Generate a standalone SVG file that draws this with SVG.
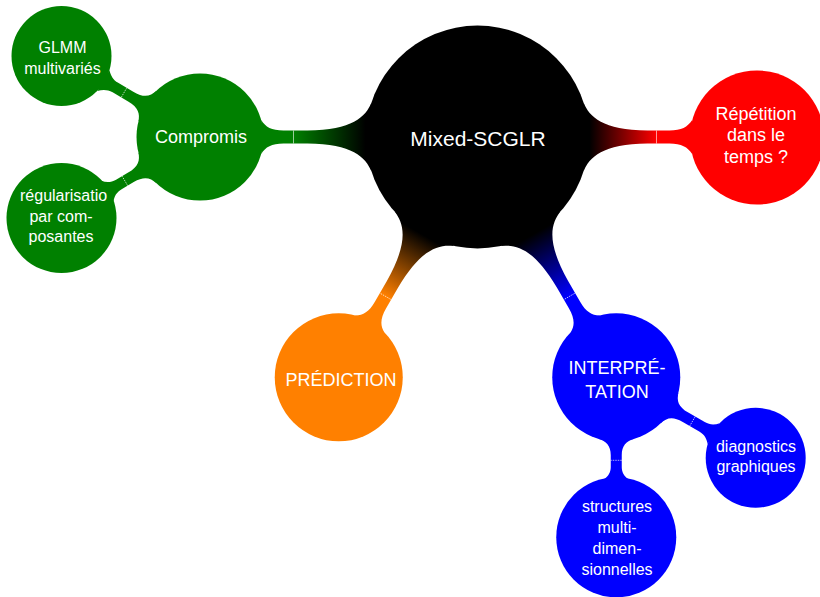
<svg xmlns="http://www.w3.org/2000/svg" width="820" height="597" viewBox="0 0 820 597">
<style>
.t{font-family:"Liberation Sans",Arial,sans-serif;fill:#ffffff;text-anchor:middle}
.l0{font-size:21px}
.l1{font-size:18px}
.l2{font-size:16px}
.tick{stroke:#ffffff;stroke-width:0.8;stroke-opacity:0.75;fill:none}
.tick2{stroke:#ffffff;stroke-width:0.8;stroke-opacity:0.8;stroke-dasharray:1.5 1;fill:none}
</style>
<defs>
<linearGradient id="gGreen" gradientUnits="userSpaceOnUse" x1="112" y1="0" x2="184" y2="0"><stop offset="0" stop-color="#000000"/><stop offset="1" stop-color="#008000"/></linearGradient>
<linearGradient id="gRed" gradientUnits="userSpaceOnUse" x1="112" y1="0" x2="179" y2="0"><stop offset="0" stop-color="#000000"/><stop offset="1" stop-color="#ff0000"/></linearGradient>
<linearGradient id="gOrange" gradientUnits="userSpaceOnUse" x1="112" y1="0" x2="184" y2="0"><stop offset="0" stop-color="#000000"/><stop offset="1" stop-color="#ff8000"/></linearGradient>
<linearGradient id="gBlue" gradientUnits="userSpaceOnUse" x1="112" y1="0" x2="184" y2="0"><stop offset="0" stop-color="#000000"/><stop offset="1" stop-color="#0000ff"/></linearGradient>
</defs>
<rect width="820" height="597" fill="#ffffff"/>
<g id="connectors">
  <g transform="translate(477.5,137) rotate(180)">
    <path fill="url(#gGreen)" d="M106,-34.5 C112,-20 125,-7 170,-6.5 L194,-6.5 C206,-6.5 212,-10 216.3,-17 L216.3,17 C212,10 206,6.5 194,6.5 L170,6.5 C125,7 112,20 106,34.5 Z"/>
    <line class="tick" x1="184" y1="-6.5" x2="184" y2="6.5"/>
  </g>
  <g transform="translate(477.5,137) rotate(0)">
    <path fill="url(#gRed)" d="M106,-34.5 C112,-20 125,-7 170,-6.5 L192,-6.5 C204,-6.5 210,-10 214.7,-17 L214.7,17 C210,10 204,6.5 192,6.5 L170,6.5 C125,7 112,20 106,34.5 Z"/>
    <line class="tick" x1="179" y1="-6.5" x2="179" y2="6.5"/>
  </g>
  <g transform="translate(477.5,137) rotate(120)">
    <path fill="url(#gOrange)" d="M106,-34.5 C112,-20 125,-7 170,-6.5 L194,-6.5 C206,-6.5 212,-10 215.8,-17 L215.8,17 C212,10 206,6.5 194,6.5 L170,6.5 C125,7 112,20 106,34.5 Z"/>
    <line class="tick2" x1="184" y1="-6" x2="184" y2="6"/>
  </g>
  <g transform="translate(477.5,137) rotate(60)">
    <path fill="url(#gBlue)" d="M106,-34.5 C112,-20 125,-7 170,-6.5 L194,-6.5 C206,-6.5 212,-10 215.8,-17 L215.8,17 C212,10 206,6.5 194,6.5 L170,6.5 C125,7 112,20 106,34.5 Z"/>
    <line class="tick2" x1="184" y1="-6" x2="184" y2="6"/>
  </g>
  <g transform="translate(200,137) rotate(210.3)">
    <path fill="#008000" d="M60.9,-18 C63.5,-10 68,-5.5 80,-5.5 L98,-5.5 C104,-5.5 108,-8 111.9,-12 L111.9,12 C108,8 104,5.5 98,5.5 L80,5.5 C68,5.5 63.5,10 60.9,18 Z"/>
    <line class="tick2" x1="88" y1="-5.5" x2="88" y2="5.5"/>
  </g>
  <g transform="translate(200,137) rotate(149.7)">
    <path fill="#008000" d="M60.9,-18 C63.5,-10 68,-5.5 80,-5.5 L94,-5.5 C100,-5.5 104,-8 107.2,-12 L107.2,12 C104,8 100,5.5 94,5.5 L80,5.5 C68,5.5 63.5,10 60.9,18 Z"/>
    <line class="tick2" x1="87" y1="-5.5" x2="87" y2="5.5"/>
  </g>
  <g transform="translate(616.25,377.3) rotate(30)">
    <path fill="#0000ff" d="M61.4,-18 C64,-10 68,-5.5 80,-5.5 L99,-5.5 C105,-5.5 109,-8 112.5,-12 L112.5,12 C109,8 105,5.5 99,5.5 L80,5.5 C68,5.5 64,10 61.4,18 Z"/>
    <line class="tick2" x1="88" y1="-5.5" x2="88" y2="5.5"/>
  </g>
  <g transform="translate(616.25,377.3) rotate(90)">
    <path fill="#0000ff" d="M61.4,-18 C64,-10 68,-5.5 78,-5.5 L90,-5.5 C95,-5.5 99,-8 101.7,-12 L101.7,12 C99,8 95,5.5 90,5.5 L78,5.5 C68,5.5 64,10 61.4,18 Z"/>
    <line class="tick2" x1="83" y1="-5.5" x2="83" y2="5.5"/>
  </g>
</g>
<g id="root">
  <circle cx="477.5" cy="137" r="111.5" fill="#000000"/>
  <text class="t l0" x="478" y="146">Mixed-SCGLR</text>
</g>
<g id="compromis">
  <circle cx="200" cy="137" r="63.5" fill="#008000"/>
  <text class="t l1" x="201" y="143">Compromis</text>
</g>
<g id="repetition">
  <circle cx="757" cy="137.5" r="67" fill="#ff0000"/>
  <text class="t l1" x="756" y="119.5">Répétition</text>
  <text class="t l1" x="756" y="141">dans le</text>
  <text class="t l1" x="756" y="162.5">temps ?</text>
</g>
<g id="prediction">
  <circle cx="338.75" cy="377.3" r="64" fill="#ff8000"/>
  <text class="t l1" x="341" y="385.5">PRÉDICTION</text>
</g>
<g id="interpretation">
  <circle cx="616.25" cy="377.3" r="64" fill="#0000ff"/>
  <text class="t l1" x="617" y="374">INTERPRÉ-</text>
  <text class="t l1" x="617" y="397.5">TATION</text>
</g>
<g id="glmm">
  <circle cx="61.5" cy="56" r="50" fill="#008000"/>
  <text class="t l2" x="62.5" y="52.5">GLMM</text>
  <text class="t l2" x="62.5" y="73.5">multivariés</text>
</g>
<g id="regularisation">
  <circle cx="61.5" cy="218" r="55" fill="#008000"/>
  <text class="t l2" x="20" y="201" style="text-anchor:start">régularisatio</text>
  <text class="t l2" x="61" y="221.5">par com-</text>
  <text class="t l2" x="61" y="242">posantes</text>
</g>
<g id="diagnostics">
  <circle cx="755.7" cy="457.8" r="50" fill="#0000ff"/>
  <text class="t l2" x="756" y="452">diagnostics</text>
  <text class="t l2" x="756" y="472">graphiques</text>
</g>
<g id="structures">
  <circle cx="616.25" cy="537.3" r="60" fill="#0000ff"/>
  <text class="t l2" x="617" y="511.5">structures</text>
  <text class="t l2" x="617" y="532.5">multi-</text>
  <text class="t l2" x="617" y="553.5">dimen-</text>
  <text class="t l2" x="617" y="574.5">sionnelles</text>
</g>
</svg>
